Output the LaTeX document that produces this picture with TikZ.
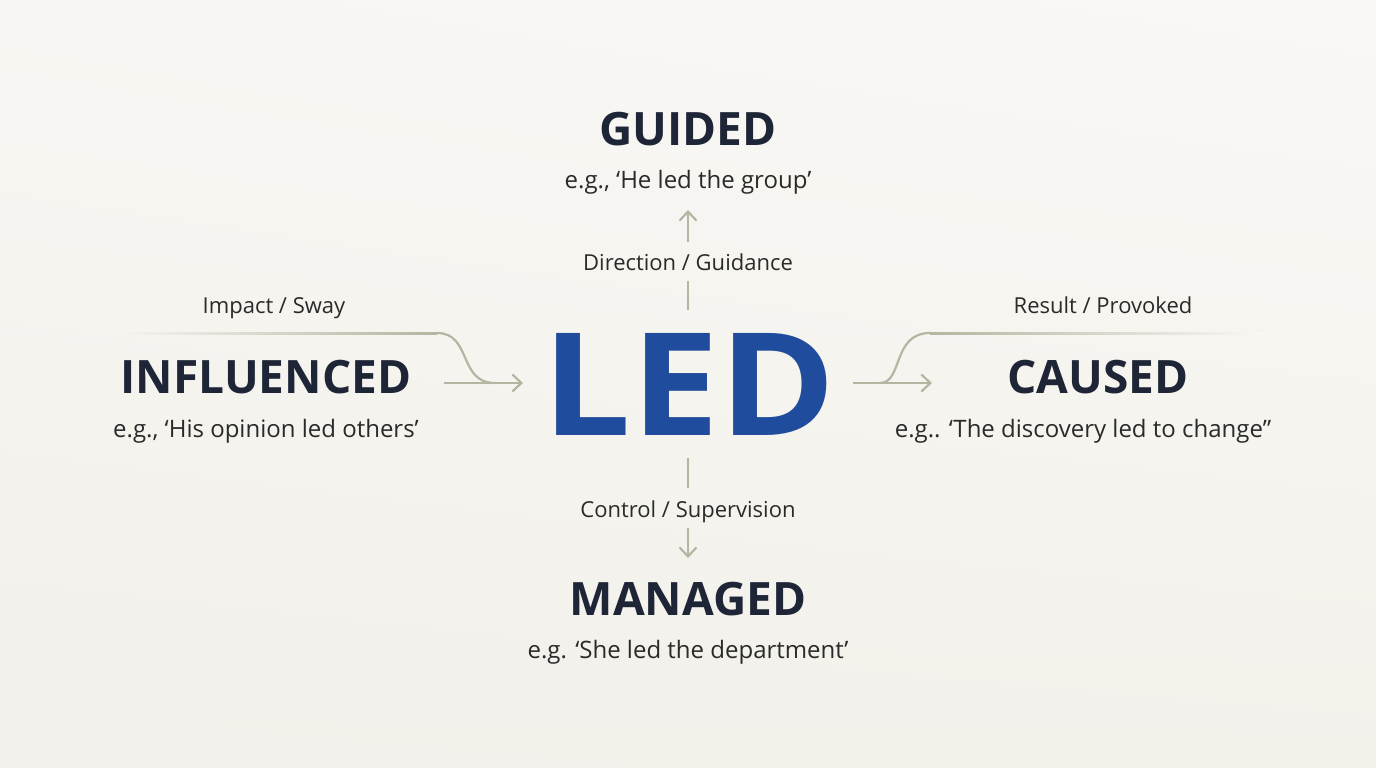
\documentclass[tikz,border=0pt]{standalone}
\usepackage{fontspec}
\setmainfont{Open Sans}
\usetikzlibrary{arrows.meta,shadings}
\definecolor{bgA}{HTML}{F7F6F2}
\definecolor{bgB}{HTML}{F9F8F5}
\definecolor{bgC}{HTML}{F1F0EA}
\definecolor{bgD}{HTML}{F3F1EA}
\definecolor{navy}{HTML}{1E2536}
\definecolor{ledblue}{HTML}{1F4C9C}
\definecolor{arc}{HTML}{B8B4A2}
\definecolor{lbl}{HTML}{2A2A2A}
\begin{document}
\begin{tikzpicture}[x=1pt,y=-1pt,
  head/.style={font=\fontsize{46}{46}\selectfont\bfseries, text=navy, inner sep=0, anchor=base},
  example/.style={font=\fontsize{24}{24}\selectfont, text=lbl, inner sep=0, anchor=base},
  lab/.style={font=\fontsize{22}{22}\selectfont, text=lbl, inner sep=0, anchor=base},
  conn/.style={draw=arc, line width=2.2pt},
  tip/.style={-{Straight Barb[length=9pt,width=17pt,line width=2.2pt]}}
]
\useasboundingbox (0,0) rectangle (1376,768);
\shade[upper left=bgA, upper right=bgB, lower left=bgC, lower right=bgD] (0,0) rectangle (1376,768);

% central word
\node[font=\fontsize{143}{143}\selectfont\bfseries, text=ledblue, inner sep=0, anchor=base] (led) at (689,435) {\scalebox{1.1}[1]{LED}};

% top
\node[head] (guided) at (688,145) {GUIDED};
\node[example] (guidedex) at (688,188) {e.g., ‘He led the group’};
\node[lab] (dirlab) at (688,270) {Direction / Guidance};
\coordinate (upA) at (688,310);
\coordinate (upB) at (688,281);
\coordinate (upC) at (688,242);
\coordinate (upD) at (688,210);
\draw[conn] (upA) -- (upB);
\draw[conn,tip] (upC) -- (upD);

% bottom
\node[head] (managed) at (688,615) {MANAGED};
\node[example] (managedex) at (688,658) {e.g. ‘She led the department’};
\node[lab] (ctrllab) at (688,517) {Control / Supervision};
\coordinate (dnA) at (688,458);
\coordinate (dnB) at (688,488);
\coordinate (dnC) at (688,528);
\coordinate (dnD) at (688,558);
\draw[conn] (dnA) -- (dnB);
\draw[conn,tip] (dnC) -- (dnD);

% left
\node[head] (infl) at (266,393) {INFLUENCED};
\node[example] (inflex) at (266,437) {e.g., ‘His opinion led others’};
\node[lab] (implab) at (274,313) {Impact / Sway};
\coordinate (lA) at (444,383);
\coordinate (lB) at (523,383);
\coordinate (lC0) at (110,333);
\coordinate (lC1) at (437,333);
\coordinate (lC2) at (495,383);
\shade[left color=bgA, right color=arc] (110,332) rectangle (437,334.2);
\draw[conn] (lC1) .. controls (472,333) and (458,383) .. (lC2);
\draw[conn,tip] (lA) -- (lB);

% right
\node[head] (caused) at (1098,393) {CAUSED};
\node[example] (causedex) at (1083,437) {e.g.. ‘The discovery led to change”};
\node[lab] (reslab) at (1103,313) {Result / Provoked};
\coordinate (rA) at (853,383);
\coordinate (rB) at (932,383);
\coordinate (rC0) at (880,383);
\coordinate (rC1) at (930,333);
\draw[conn,tip] (rA) -- (rB);
\draw[conn] (rC0) .. controls (903,383) and (892,333) .. (rC1);
\shade[left color=arc, right color=bgB] (930,332) rectangle (1265,334.2);
\end{tikzpicture}
\end{document}
